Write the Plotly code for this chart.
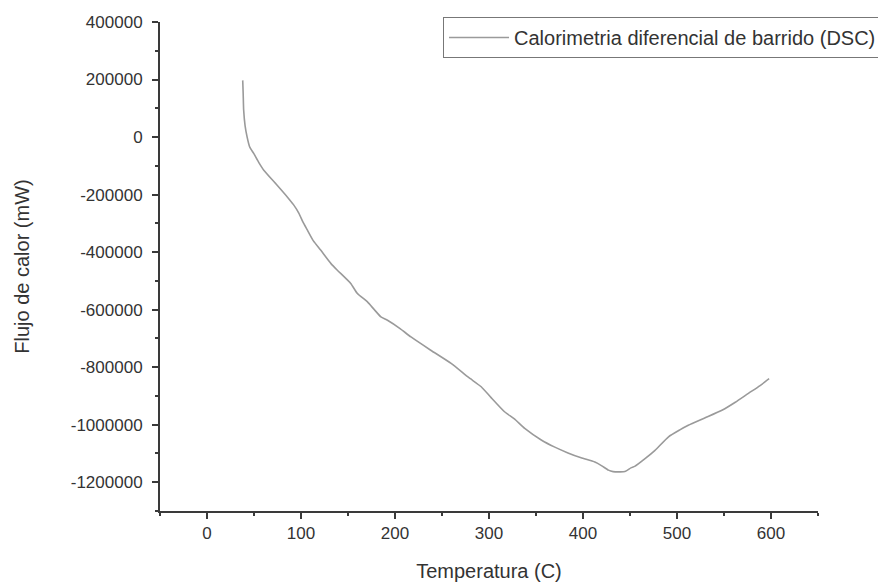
import plotly.graph_objects as go

temperatura = [38, 38.5, 39, 40.5, 42.7, 45.5, 49.7, 55, 60.4, 72.9, 85.4, 92, 97.8, 102, 106.7,
               113, 120.9, 131.9, 138.7, 152.9, 160, 170.7, 178, 185, 192, 205, 217, 238, 259.7,
               278, 291.7, 302, 316.5, 327, 338, 356, 370, 384, 398, 412.6, 420, 427, 432, 444.6,
               451, 455, 466, 476.6, 491, 503, 512, 530, 547.8, 562, 576, 588, 598]
flujo = [197000, 150000, 94000, 40000, 0, -35000, -57000, -88000, -115000, -161000, -208000,
         -235000, -265000, -295000, -323000, -360000, -393000, -440000, -463000, -509000,
         -544000, -573000, -600000, -625000, -637000, -665000, -695000, -741000, -787000,
         -835000, -868000, -905000, -955000, -980000, -1013000, -1054000, -1078000, -1098000,
         -1115000, -1130000, -1143000, -1158000, -1163000, -1163000, -1150000, -1145000,
         -1118000, -1089000, -1042000, -1018000, -1002000, -976000, -950000, -922000,
         -891000, -865000, -840000]

x_ticks = [0, 100, 200, 300, 400, 500, 600]
y_ticks = [-1200000, -1000000, -800000, -600000, -400000, -200000, 0, 200000, 400000]

FONT = "Liberation Sans, Arial, sans-serif"
AXC = "#3a3a3a"

fig = go.Figure()
fig.add_trace(go.Scatter(
    x=temperatura, y=flujo, mode="lines",
    name="Calorimetria diferencial de barrido (DSC)",
    line=dict(color="#9a9a9a", width=1.6, shape="spline", smoothing=0.5),
))

fig.update_layout(
    width=886, height=586,
    margin=dict(l=152, r=76, t=14, b=83, autoexpand=False),
    paper_bgcolor="white", plot_bgcolor="white",
    font=dict(family=FONT, color="#333333", size=17),
    showlegend=True,
    legend=dict(
        xref="container", yref="container",
        x=0.9865, y=0.9846, xanchor="right", yanchor="top",
        bordercolor="#777777", borderwidth=1, bgcolor="white",
        font=dict(size=20, color="#333333"),
        itemwidth=60,
    ),
    xaxis=dict(
        range=[-50, 650], tickvals=x_ticks, ticktext=[str(v) for v in x_ticks],
        showgrid=False, zeroline=False, showline=True, linecolor=AXC, linewidth=2,
        ticks="outside", ticklen=6, tickwidth=2, tickcolor=AXC,
        minor=dict(dtick=50, tick0=0, ticks="outside", ticklen=3, tickwidth=2, tickcolor=AXC),
        tickfont=dict(size=17, color="#333333"),
        title=dict(text="Temperatura (C)", font=dict(size=20, color="#333333"), standoff=22),
        automargin=False,
    ),
    yaxis=dict(
        range=[-1300000, 400000], tickvals=y_ticks, ticktext=[str(v) for v in y_ticks],
        showgrid=False, zeroline=False, showline=True, linecolor=AXC, linewidth=2,
        ticks="outside", ticklen=6, tickwidth=2, tickcolor=AXC,
        minor=dict(dtick=100000, tick0=0, ticks="outside", ticklen=3, tickwidth=2, tickcolor=AXC),
        tickfont=dict(size=17, color="#333333"),
        ticklabelstandoff=6,
        title=dict(text="Flujo de calor (mW)", font=dict(size=20, color="#333333"), standoff=36),
        automargin=False,
    ),
)

fig.write_html("out.html")
